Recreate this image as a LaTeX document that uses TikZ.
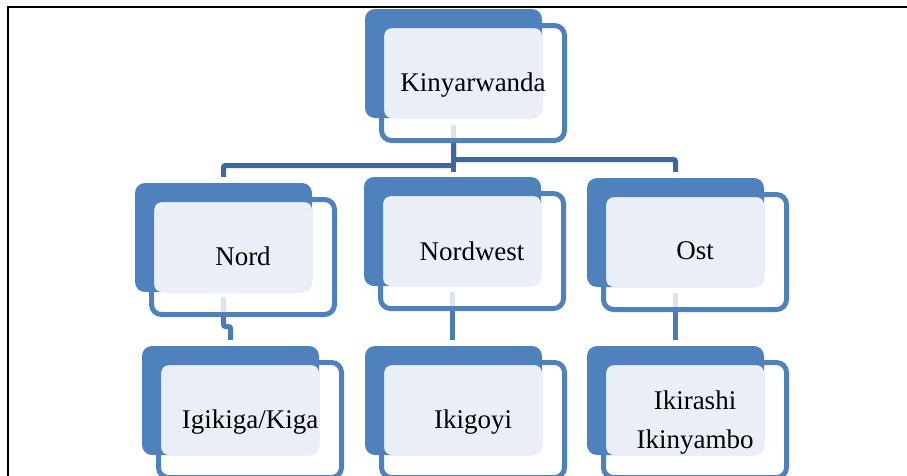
\documentclass[tikz,border=0pt]{standalone}
\usepackage{fontspec}
\setmainfont{Liberation Serif}
\usetikzlibrary{calc,backgrounds}

\definecolor{accent}{HTML}{4F81BD}
\definecolor{facefill}{HTML}{EAEFF7}
\definecolor{trunkcol}{HTML}{41669A}
\definecolor{branchcol}{HTML}{4A7BB7}
\definecolor{stubcol}{HTML}{DDE4EF}

% one hierarchy box: filled back plate, pale face, offset outline;
% (#1-o) is the point on the outline's lower edge below the plate centre
\newcommand{\orgbox}[3]{%
  \node[backplate] (#1-b) at (#2+88.5, #3+54.5) {};
  \node[faceplate] (#1-f) at (#2+98, #3+64) {};
  \node[outline]   (#1)   at (#2+108, #3+74) {};
  \coordinate (#1-o) at (#1-b.south |- #1.south);
}

\begin{document}
\begin{tikzpicture}[x=1pt,y=-1pt,
  backplate/.style={fill=accent, rounded corners=10pt, minimum width=177pt,
    minimum height=109pt, inner sep=0pt},
  faceplate/.style={fill=facefill, rounded corners=8pt, minimum width=158pt,
    minimum height=90pt, inner sep=0pt},
  outline/.style={draw=accent, line width=5pt, rounded corners=10pt,
    minimum width=183pt, minimum height=115pt, inner sep=0pt},
  caption/.style={anchor=base, inner sep=0pt, font=\fontsize{27}{39}\selectfont},
  trunk/.style={draw=trunkcol, line width=5pt, rounded corners=2pt},
  branch/.style={draw=branchcol, line width=5pt, rounded corners=2pt},
  stub/.style={draw=stubcol, line width=5pt},
  rule/.style={draw=black, line width=2pt}]

\clip (0,0) rectangle (907,475);

% page frame
\coordinate (fr-tl) at (7.8,6.5);
\coordinate (fr-tr) at (910,6.5);
\coordinate (fr-bl) at (7.8,480);
\draw[rule] (fr-bl) -- (fr-tl) -- (fr-tr);

% boxes
\orgbox{k}{365}{9}
\orgbox{n}{135}{183}
\orgbox{nw}{364}{177}
\orgbox{o}{587}{178}
\orgbox{ig}{142}{346}
\orgbox{ik}{365}{346}
\orgbox{ir}{587}{346}

% captions
\node[caption] (k-t)  at ($(k)+(0,8)$)   {Kinyarwanda};
\node[caption] (n-t)  at ($(n)+(0,8)$)   {Nord};
\node[caption] (nw-t) at ($(nw)+(0,9)$)  {Nordwest};
\node[caption] (o-t)  at ($(o)+(0,7)$)   {Ost};
\node[caption] (ig-t) at ($(ig)+(0,8)$)  {Igikiga/Kiga};
\node[caption] (ik-t) at ($(ik)+(0,8)$)  {Ikigoyi};
\node[caption] (ir-t1) at ($(ir)+(0,-11)$) {Ikirashi};
\node[caption] (ir-t2) at ($(ir)+(0,28)$)  {Ikinyambo};

% connectors
\begin{scope}[on background layer]
  \draw[stub] ($(k-b.south)+(0,7)$) -- (k-o);
  \draw[trunk] (k-o) -- ++(0,16.5) -| ($(o-b.north)+(0,-6)$);
  \draw[trunk] (k-o) -- ++(0,22.5) -| ($(n-b.north)+(0,-6)$);
  \draw[trunk] (k-o) -- ($(k-o |- nw-b.north)+(0,-5)$);

  \draw[stub] ($(n-b.south)+(0,5)$) -- (n-o);
  \draw[branch] (n-o) -- ++(0,9.5) -| ($(ig-b.north)+(0,-6)$);

  \draw[stub] ($(nw-b.south)+(0,6)$) -- (nw-o);
  \draw[branch] (nw-o) -- ($(nw-o |- ik-b.north)+(0,-6)$);

  \draw[stub] ($(o-b.south)+(0,6)$) -- (o-o);
  \draw[branch] (o-o) -- ($(o-o |- ir-b.north)+(0,-6)$);
\end{scope}
\end{tikzpicture}
\end{document}
